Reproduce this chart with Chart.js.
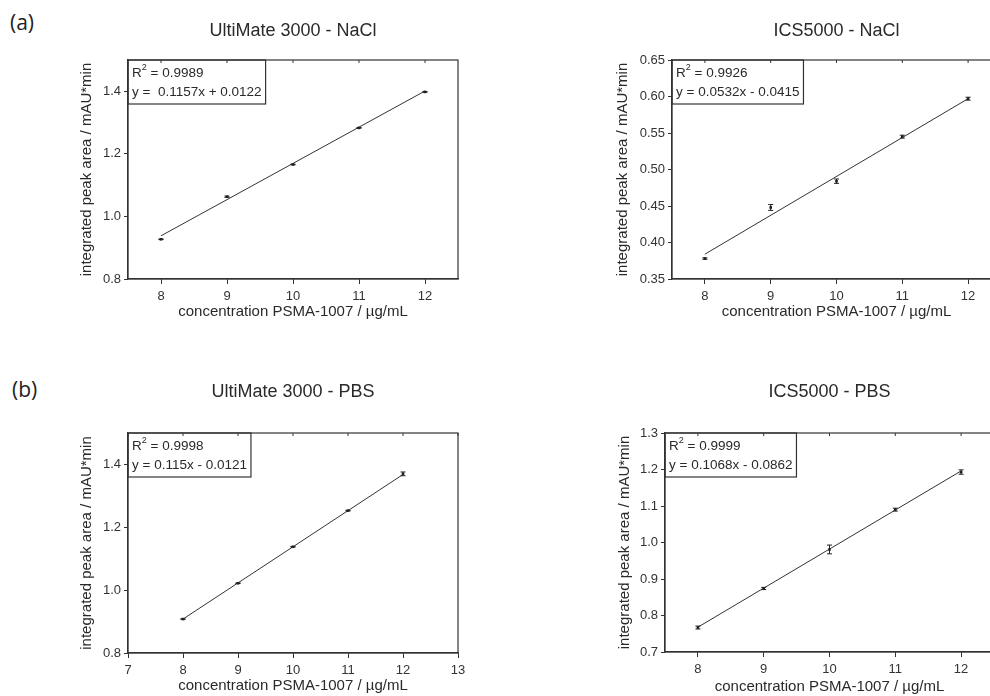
<!DOCTYPE html>
<html>
<head>
<meta charset="utf-8">
<script src="https://cdn.jsdelivr.net/npm/chart.js@4.4.1/dist/chart.umd.min.js"></script>
<style>
  html, body { margin: 0; padding: 0; background: #fff; }
  body { width: 990px; height: 696px; position: relative; overflow: hidden; }
  canvas { position: absolute; }
  .tag { position: absolute; font-family: "Open Sans", sans-serif; font-size: 21px; color: #222; line-height: 26px; }
</style>
</head>
<body>
<div class="tag" style="left:10px;top:9px">(a)</div>
<div class="tag" style="left:12px;top:376px">(b)</div>
<canvas id="c1"></canvas>
<canvas id="c2"></canvas>
<canvas id="c3"></canvas>
<canvas id="c4"></canvas>
<script>
// data
const concentration = [8, 9, 10, 11, 12];

const ultiNaclArea = [0.927, 1.063, 1.166, 1.283, 1.398];
const ultiNaclErr  = [0.001, 0.002, 0.001, 0.001, 0.001];
const icsNaclArea  = [0.378, 0.448, 0.484, 0.545, 0.597];
const icsNaclErr   = [0.001, 0.004, 0.003, 0.002, 0.002];
const ultiPbsArea  = [0.908, 1.022, 1.138, 1.253, 1.370];
const ultiPbsErr   = [0.001, 0.001, 0.001, 0.001, 0.006];
const icsPbsArea   = [0.767, 0.874, 0.981, 1.090, 1.193];
const icsPbsErr    = [0.004, 0.003, 0.012, 0.004, 0.006];

// fitted line ends (x = 8 and x = 12)
const fitX = [8, 12];
const ultiNaclFit = [0.938, 1.401];
const icsNaclFit  = [0.384, 0.597];
const ultiPbsFit  = [0.908, 1.368];
const icsPbsFit   = [0.768, 1.196];

const titles = ['UltiMate 3000 - NaCl', 'ICS5000 - NaCl', 'UltiMate 3000 - PBS', 'ICS5000 - PBS'];
const r2Labels = ['0.9989', '0.9926', '0.9998', '0.9999'];
const eqLabels = ['y =  0.1157x + 0.0122', 'y = 0.0532x - 0.0415', 'y = 0.115x - 0.0121', 'y = 0.1068x - 0.0862'];

const xTicksShort = [8, 9, 10, 11, 12];
const xTicksWide  = [7, 8, 9, 10, 11, 12, 13];
const yTicksUltiNacl = [0.8, 1.0, 1.2, 1.4];
const yTicksIcsNacl  = [0.35, 0.40, 0.45, 0.50, 0.55, 0.60, 0.65];
const yTicksUltiPbs  = [0.8, 1.0, 1.2, 1.4];
const yTicksIcsPbs   = [0.7, 0.8, 0.9, 1.0, 1.1, 1.2, 1.3];

const xTitle = 'concentration PSMA-1007 / µg/mL';
const yTitle = 'integrated peak area / mAU*min';

const FONT = '"Liberation Sans", Arial, sans-serif';
const INK = '#2a2a2a';

// frame round the plot area, with faint ticks mirrored inside the top edge
const frame = {
  id: 'frame',
  afterDraw(chart) {
    const a = chart.chartArea, ctx = chart.ctx;
    ctx.save();
    ctx.strokeStyle = '#333';
    ctx.lineWidth = 1.2;
    ctx.strokeRect(a.left, a.top, a.right - a.left, a.bottom - a.top);
    ctx.lineWidth = 1;
    ctx.beginPath();
    chart.scales.x.ticks.forEach(t => {
      const px = chart.scales.x.getPixelForValue(t.value);
      ctx.moveTo(px, a.top);
      ctx.lineTo(px, a.top + 3);
    });
    ctx.stroke();
    ctx.restore();
  }
};

// small vertical error bars with caps
const errBars = {
  id: 'errBars',
  afterDatasetsDraw(chart, args, opts) {
    const meta = chart.getDatasetMeta(1);
    const ds = chart.data.datasets[1];
    const ys = chart.scales.y, ctx = chart.ctx;
    ctx.save();
    ctx.strokeStyle = '#222';
    ctx.lineWidth = 1;
    meta.data.forEach((pt, i) => {
      const e = opts.errors[i];
      const t = ys.getPixelForValue(ds.data[i].y + e);
      const b = ys.getPixelForValue(ds.data[i].y - e);
      ctx.beginPath();
      ctx.moveTo(pt.x, t); ctx.lineTo(pt.x, b);
      ctx.moveTo(pt.x - 2.5, t); ctx.lineTo(pt.x + 2.5, t);
      ctx.moveTo(pt.x - 2.5, b); ctx.lineTo(pt.x + 2.5, b);
      ctx.stroke();
    });
    ctx.restore();
  }
};

// R² / equation box in the top left corner
const fitBox = {
  id: 'fitBox',
  afterDraw(chart, args, opts) {
    const {left, top} = chart.chartArea, ctx = chart.ctx;
    ctx.save();
    ctx.textBaseline = 'middle';
    ctx.fillStyle = INK;
    ctx.font = '13.5px ' + FONT;
    const wR = ctx.measureText('R').width;
    const rest = ' = ' + opts.r2;
    const wRest = ctx.measureText(rest).width;
    const wEq = ctx.measureText(opts.eq).width;
    ctx.font = '9px ' + FONT;
    const w2 = ctx.measureText('2').width;
    const w = Math.max(wR + w2 + wRest, wEq) + 8;

    ctx.strokeStyle = '#333';
    ctx.lineWidth = 1.2;
    ctx.strokeRect(left, top, w, 44);

    let x = left + 4;
    ctx.font = '13.5px ' + FONT;
    ctx.fillText('R', x, top + 13);
    ctx.font = '9px ' + FONT;
    ctx.fillText('2', x + wR, top + 8);
    ctx.font = '13.5px ' + FONT;
    ctx.fillText(rest, x + wR + w2, top + 13);
    ctx.fillText(opts.eq, x, top + 32);
    ctx.restore();
  }
};

function makePanel(id, spec) {
  const canvas = document.getElementById(id);
  canvas.width = spec.box.w;
  canvas.height = spec.box.h;
  canvas.style.left = spec.box.x + 'px';
  canvas.style.top = spec.box.y + 'px';

  const titleLh = 18 * 1.2, axisLh = 15 * 1.2;
  const yAxisW = spec.plot.l - spec.box.x;
  const xAxisH = spec.box.y + spec.box.h - spec.plot.b;

  new Chart(canvas, {
    type: 'scatter',
    data: {
      datasets: [{
        data: fitX.map((x, i) => ({x: x, y: spec.fit[i]})),
        showLine: true,
        borderColor: '#333',
        borderWidth: 1,
        pointRadius: 0
      }, {
        data: concentration.map((x, i) => ({x: x, y: spec.values[i]})),
        pointStyle: 'rect',
        pointRadius: 1.8,
        backgroundColor: '#111',
        borderColor: '#111',
        borderWidth: 0
      }]
    },
    options: {
      responsive: false,
      animation: false,
      layout: {
        padding: {
          left: 0,
          bottom: 0,
          right: spec.box.x + spec.box.w - spec.plot.r,
          top: spec.titleY - spec.box.y - titleLh / 2
        }
      },
      plugins: {
        legend: { display: false },
        tooltip: { enabled: false },
        title: {
          display: true,
          text: spec.title,
          fullSize: false,
          color: INK,
          font: { family: FONT, size: 18, weight: 'normal', lineHeight: 1.2 },
          padding: { top: 0, bottom: spec.plot.t - spec.titleY - titleLh / 2 }
        },
        errBars: { errors: spec.errors },
        fitBox: { r2: spec.r2, eq: spec.eq }
      },
      scales: {
        x: {
          type: 'linear',
          min: spec.xMin,
          max: spec.xMax,
          afterBuildTicks: s => { s.ticks = spec.xTicks.map(v => ({value: v})); },
          afterFit: s => { s.height = xAxisH; },
          grid: { drawOnChartArea: false, tickLength: 5, color: '#333' },
          border: { color: '#333', width: 1.2 },
          ticks: { color: '#333', padding: 5, font: { family: FONT, size: 13 }, callback: v => String(v) },
          title: {
            display: true,
            text: xTitle,
            color: INK,
            font: { family: FONT, size: 15, lineHeight: 1.2 },
            padding: { top: 0, bottom: spec.box.y + spec.box.h - spec.xTitleY - axisLh / 2 }
          }
        },
        y: {
          min: spec.yMin,
          max: spec.yMax,
          afterBuildTicks: s => { s.ticks = spec.yTicks.map(v => ({value: v})); },
          afterFit: s => { s.width = yAxisW; },
          grid: { drawOnChartArea: false, tickLength: 4, color: '#333' },
          border: { color: '#333', width: 1.2 },
          ticks: { color: '#333', padding: 3, font: { family: FONT, size: 13 }, callback: v => v.toFixed(spec.yDigits) },
          title: {
            display: true,
            text: yTitle,
            color: INK,
            font: { family: FONT, size: 15, lineHeight: 1.2 },
            padding: { top: spec.yTitleX - spec.box.x - axisLh / 2, bottom: 0 }
          }
        }
      }
    },
    plugins: [frame, errBars, fitBox]
  });
}

makePanel('c1', {
  box: {x: 0, y: 0, w: 480, h: 345}, plot: {l: 128, t: 60, r: 458, b: 279},
  titleY: 31, yTitleX: 87, xTitleY: 312,
  title: titles[0], r2: r2Labels[0], eq: eqLabels[0],
  values: ultiNaclArea, errors: ultiNaclErr, fit: ultiNaclFit,
  xMin: 7.5, xMax: 12.5, xTicks: xTicksShort,
  yMin: 0.8, yMax: 1.5, yTicks: yTicksUltiNacl, yDigits: 1
});

makePanel('c2', {
  box: {x: 540, y: 0, w: 490, h: 345}, plot: {l: 672, t: 60, r: 1001, b: 279},
  titleY: 31, yTitleX: 623, xTitleY: 312,
  title: titles[1], r2: r2Labels[1], eq: eqLabels[1],
  values: icsNaclArea, errors: icsNaclErr, fit: icsNaclFit,
  xMin: 7.5, xMax: 12.5, xTicks: xTicksShort,
  yMin: 0.35, yMax: 0.65, yTicks: yTicksIcsNacl, yDigits: 2
});

makePanel('c3', {
  box: {x: 0, y: 350, w: 480, h: 346}, plot: {l: 128, t: 433, r: 458, b: 653},
  titleY: 392, yTitleX: 87, xTitleY: 686,
  title: titles[2], r2: r2Labels[2], eq: eqLabels[2],
  values: ultiPbsArea, errors: ultiPbsErr, fit: ultiPbsFit,
  xMin: 7, xMax: 13, xTicks: xTicksWide,
  yMin: 0.8, yMax: 1.5, yTicks: yTicksUltiPbs, yDigits: 1
});

makePanel('c4', {
  box: {x: 540, y: 350, w: 490, h: 346}, plot: {l: 665, t: 433, r: 994, b: 652},
  titleY: 392, yTitleX: 625, xTitleY: 687,
  title: titles[3], r2: r2Labels[3], eq: eqLabels[3],
  values: icsPbsArea, errors: icsPbsErr, fit: icsPbsFit,
  xMin: 7.5, xMax: 12.5, xTicks: xTicksShort,
  yMin: 0.7, yMax: 1.3, yTicks: yTicksIcsPbs, yDigits: 1
});
</script>
</body>
</html>
